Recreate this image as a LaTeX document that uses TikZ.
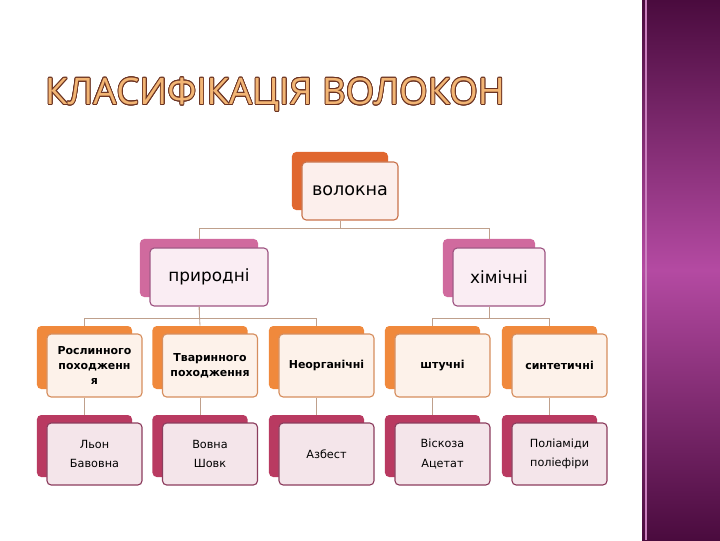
\documentclass[tikz,border=0pt]{standalone}
\usepackage{fontspec}
\setmainfont{DejaVu Sans}
\newfontfamily\titlefont{Open Sans}
\usepackage[copies]{contour}
\usepackage{tikz}
\usetikzlibrary{positioning}

\definecolor{fibback}{HTML}{E0672F}
\definecolor{fibline}{HTML}{C9734C}
\definecolor{fibfill}{HTML}{FCEFEC}
\definecolor{grpback}{HTML}{D06A9E}
\definecolor{grpline}{HTML}{9E5482}
\definecolor{grpfill}{HTML}{FAEDF3}
\definecolor{kindback}{HTML}{F0893C}
\definecolor{kindline}{HTML}{D68E5E}
\definecolor{kindfill}{HTML}{FDF2EA}
\definecolor{exback}{HTML}{B93A61}
\definecolor{exline}{HTML}{8C3D5E}
\definecolor{exfill}{HTML}{F4E5EA}
\definecolor{wire}{HTML}{BFA08C}
\definecolor{titlefill}{HTML}{F2B574}
\definecolor{titleline}{HTML}{6B3322}
\definecolor{banddark}{HTML}{4A0B3E}
\definecolor{bandlight}{HTML}{B44AA2}

\begin{document}
\begin{tikzpicture}[x=0.025cm, y=-0.025cm]
 	\tikzstyle{back}=[rectangle, rounded corners=3pt, inner sep=0pt]
 	\tikzstyle{front}=[rectangle, rounded corners=3pt, inner sep=0pt, line width=0.8pt, align=center]
 	\tikzstyle{link}=[draw=wire, line width=0.6pt]
 	\useasboundingbox (0,0) rectangle (720,540);
 	\shade[top color=banddark, bottom color=banddark, middle color=bandlight] (642,0) rectangle (720,540);
 	\draw[bandlight!70!white, line width=1pt] (646,0) -- (646,540);
 	\node (title) at (275,95) {\titlefont\fontsize{26}{30}\selectfont\contourlength{0.6pt}\contour{titleline}{\textcolor{titlefill}{КЛАСИФІКАЦІЯ ВОЛОКОН}}};
 	% top
 	\node[back, fill=fibback, minimum width=2.4cm, minimum height=1.45cm] (fibbk) at (340,181) {};
 	\node[front, draw=fibline, fill=fibfill, minimum width=2.4cm, minimum height=1.45cm, font=\fontsize{12.5}{15}\selectfont] (fib) at (350,191) {волокна};
 	% groups
 	\node[back, fill=grpback, minimum width=2.95cm, minimum height=1.45cm] (natbk) at (199,268) {};
 	\node[front, draw=grpline, fill=grpfill, minimum width=2.95cm, minimum height=1.45cm, font=\fontsize{12}{15}\selectfont] (nat) at (209,277) {природні};
 	\node[back, fill=grpback, minimum width=2.3cm, minimum height=1.45cm] (chembk) at (489,268) {};
 	\node[front, draw=grpline, fill=grpfill, minimum width=2.3cm, minimum height=1.45cm, font=\fontsize{12}{15}\selectfont] (chem) at (499,277) {хімічні};
 	% kinds
 	\tikzstyle{kindbk}=[back, fill=kindback, minimum width=2.375cm, minimum height=1.575cm]
 	\tikzstyle{kind}=[front, draw=kindline, fill=kindfill, minimum width=2.375cm, minimum height=1.575cm, font=\fontsize{7.8}{10.4}\selectfont\bfseries]
 	\node[kindbk] (plantbk) at (84.5,357.5) {};
 	\node[kind] (plant) at (94.5,365.5) {Рослинного\\походженн\\я};
 	\node[kindbk] (animbk) at (200,357.5) {};
 	\node[kind] (anim) at (210,365.5) {Тваринного\\походження};
 	\node[kindbk] (inorgbk) at (316.5,357.5) {};
 	\node[kind] (inorg) at (326.5,365.5) {Неорганічні};
 	\node[kindbk] (artbk) at (432.5,357.5) {};
 	\node[kind] (art) at (442.5,365.5) {штучні};
 	\node[kindbk] (synbk) at (549.5,357.5) {};
 	\node[kind] (syn) at (559.5,365.5) {синтетичні};
 	% examples
 	\tikzstyle{exbk}=[back, fill=exback, minimum width=2.375cm, minimum height=1.55cm]
 	\tikzstyle{ex}=[front, draw=exline, fill=exfill, minimum width=2.375cm, minimum height=1.55cm, font=\fontsize{8}{14}\selectfont]
 	\node[exbk] (flaxbk) at (84.5,446) {};
 	\node[ex] (flax) at (94.5,454) {Льон\\Бавовна};
 	\node[exbk] (woolbk) at (200,446) {};
 	\node[ex] (wool) at (210,454) {Вовна\\Шовк};
 	\node[exbk] (asbbk) at (316.5,446) {};
 	\node[ex] (asb) at (326.5,454) {Азбест};
 	\node[exbk] (viscbk) at (432.5,446) {};
 	\node[ex] (visc) at (442.5,454) {Віскоза\\Ацетат};
 	\node[exbk] (polybk) at (549.5,446) {};
 	\node[ex] (poly) at (559.5,454) {Поліаміди\\поліефіри};
 	% connectors
 	\draw[link] (fib.south -| fibbk) -- ++(0,8) -| (natbk.north);
 	\draw[link] (fib.south -| fibbk) -- ++(0,8) -| (chembk.north);
 	\draw[link] (nat.south -| natbk) -- ++(0,12) -| (plantbk.north);
 	\draw[link] (nat.south -| natbk) -- (animbk.north);
 	\draw[link] (nat.south -| natbk) -- ++(0,12) -| (inorgbk.north);
 	\draw[link] (chem.south -| chembk) -- ++(0,12) -| (artbk.north);
 	\draw[link] (chem.south -| chembk) -- ++(0,12) -| (synbk.north);
 	\draw[link] (plant.south -| plantbk) -- (flaxbk.north);
 	\draw[link] (anim.south -| animbk) -- (woolbk.north);
 	\draw[link] (inorg.south -| inorgbk) -- (asbbk.north);
 	\draw[link] (art.south -| artbk) -- (viscbk.north);
 	\draw[link] (syn.south -| synbk) -- (polybk.north);
\end{tikzpicture}
\end{document}
